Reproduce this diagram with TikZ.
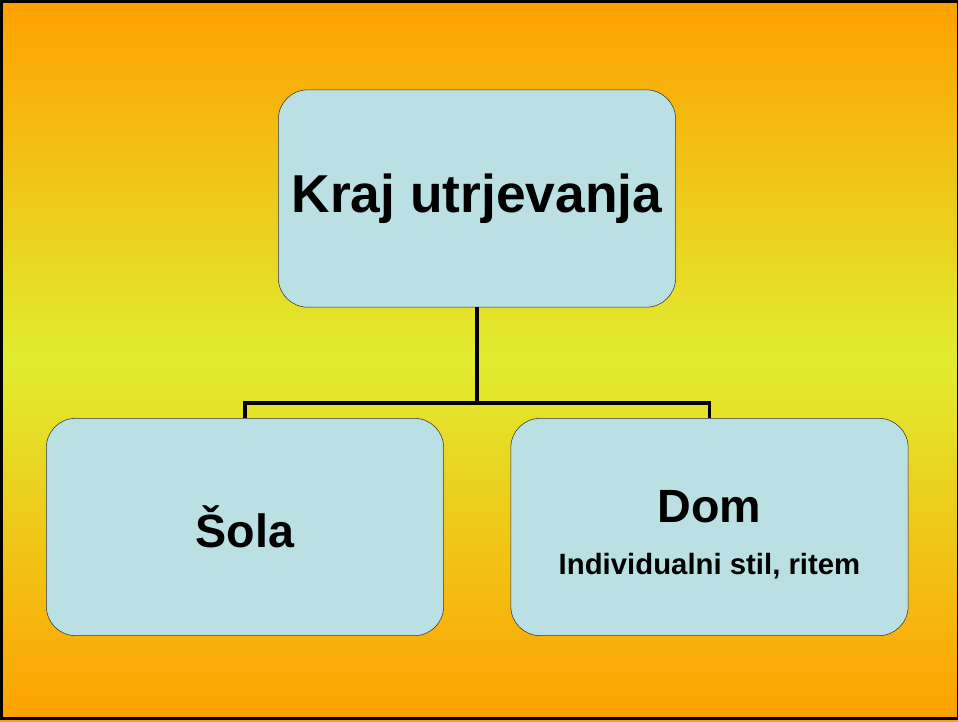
\documentclass[tikz,border=0pt]{standalone}
\usepackage{fontspec}
\setmainfont{Liberation Sans}
\usepackage{tikz}

\definecolor{bgorange}{HTML}{FFA000}
\definecolor{bgyellow}{HTML}{E0EC30}
\definecolor{boxfill}{HTML}{BAE0E3}

\begin{document}
\begin{tikzpicture}[x=0.75pt, y=-0.75pt,
    topic/.style={shape=rectangle, rounded corners=22pt, draw=black!80, thin,
      fill=boxfill, minimum width=298pt, minimum height=163pt, inner sep=0pt,
      align=center, font=\bfseries},
    link/.style={line width=2.3pt, black}]
            \useasboundingbox (0, 0) rectangle (958, 722);
            \shade[top color=bgorange, bottom color=bgyellow] (0, 0) rectangle (958, 361);
            \shade[top color=bgyellow, bottom color=bgorange] (0, 361) rectangle (958, 722);
            \draw[line width=2.3pt] (1.5, 1.5) rectangle (958.5, 718.5);

            \node[topic, font=\bfseries\fontsize{40}{46}\selectfont] (kraj) at (477, 198.5) {Kraj utrjevanja};
            \node[topic, font=\bfseries\fontsize{35}{40}\selectfont] (sola) at (245, 527) {Šola};
            \node[topic] (dom) at (709.5, 527) {{\fontsize{35}{40}\selectfont\rule{0pt}{36pt}Dom}\\[22pt]{\fontsize{22}{26}\selectfont Individualni stil, ritem}};

            \coordinate (bus) at (477, 403);
            \draw[link] (kraj.south) -- (bus);
            \draw[link] (sola.north) |- (bus) -| (dom.north);

        \end{tikzpicture}
\end{document}
